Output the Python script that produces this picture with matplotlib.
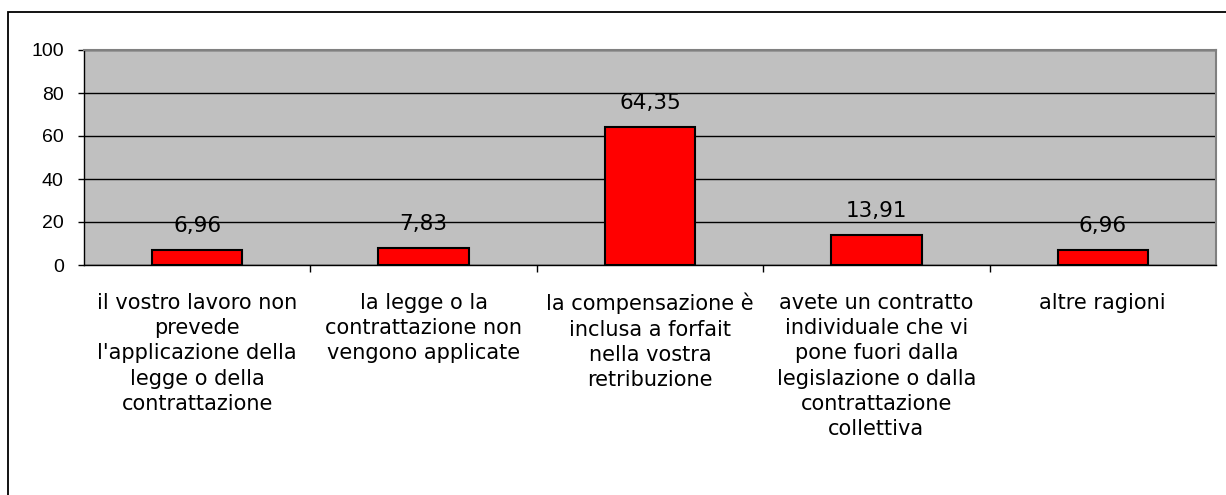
import numpy as np
import matplotlib.pyplot as plt
from matplotlib.patches import Rectangle

# categories and percentages
categories = [
    "il vostro lavoro non\nprevede\nl'applicazione della\nlegge o della\ncontrattazione",
    "la legge o la\ncontrattazione non\nvengono applicate",
    "la compensazione è\ninclusa a forfait\nnella vostra\nretribuzione",
    "avete un contratto\nindividuale che vi\npone fuori dalla\nlegislazione o dalla\ncontrattazione\ncollettiva",
    "altre ragioni",
]
values = [6.96, 7.83, 64.35, 13.91, 6.96]
yticks = [0, 20, 40, 60, 80, 100]

W, H = 1226, 495
fig = plt.figure(figsize=(W / 100, H / 100), dpi=100)
fig.patch.set_facecolor("white")

# outer frame (cut off at right and bottom)
fig.patches.append(Rectangle((8 / W, -0.05), 1.1, 1 + 0.05 - 11.5 / H,
                             transform=fig.transFigure, fill=False,
                             edgecolor="black", linewidth=1.3))

ax = fig.add_axes([84 / W, (H - 265) / H, (1216 - 84) / W, (265 - 50) / H])
ax.set_facecolor("#c0c0c0")

x = np.arange(len(values))
ax.bar(x, values, width=0.4, color="red", edgecolor="black", linewidth=1.5, zorder=3)

ax.set_xlim(-0.5, len(values) - 0.5)
ax.set_ylim(0, 100)
ax.set_yticks(yticks)
ax.set_yticklabels([str(v) for v in yticks], fontfamily="Liberation Sans", fontsize=14)
ax.yaxis.grid(True, color="black", linewidth=1)
ax.set_axisbelow(True)

# category labels at centers, tick marks at boundaries
ax.set_xticks(x)
ax.set_xticklabels(categories, fontfamily="DejaVu Sans", fontsize=15,
                   linespacing=1.33, va="top")
ax.tick_params(axis="x", length=0, pad=20)
ax.set_xticks(np.arange(0.5, len(values) - 1, 1.0), minor=True)
ax.tick_params(axis="x", which="minor", length=5, width=1, color="black")
ax.tick_params(axis="y", length=4.5, width=1, color="black", pad=10)

for s in ["top", "right"]:
    ax.spines[s].set_color("#808080")
    ax.spines[s].set_linewidth(1.5)
for s in ["left", "bottom"]:
    ax.spines[s].set_color("black")
    ax.spines[s].set_linewidth(1)

for xi, v in zip(x, values):
    ax.annotate(f"{v:.2f}".replace(".", ","), (xi, v), xytext=(0, 10),
                textcoords="offset points", ha="center", va="bottom",
                fontfamily="DejaVu Sans", fontsize=15.5)

fig.savefig("out.png", dpi=100)
